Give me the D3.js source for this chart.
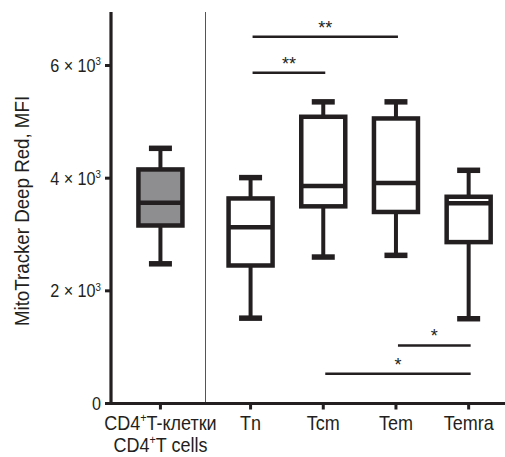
<!DOCTYPE html>
<html>
<head>
<meta charset="utf-8">
<script src="https://cdn.jsdelivr.net/npm/d3@7"></script>
<style>
  html, body { margin: 0; padding: 0; background: #fff; }
  svg { display: block; }
  text { font-family: "Liberation Sans", Arial, Helvetica, sans-serif; fill: #231f20; }
</style>
</head>
<body>
<svg id="chart" width="505" height="457"></svg>
<script>
// ---------------- data ----------------
const categories = ["CD4+T", "Tn", "Tcm", "Tem", "Temra"];
const labelLine1 = ["CD4⁺T-клетки", "Tn", "Tcm", "Tem", "Temra"];
const labelLine2 = ["CD4⁺T cells", "", "", "", ""];
const groups     = ["all", "subset", "subset", "subset", "subset"];

const whiskerMin = [2480, 1515, 2600, 2630, 1505];
const q1         = [3160, 2450, 3500, 3400, 2865];
const median     = [3565, 3130, 3860, 3915, 3555];
const q3         = [4155, 3640, 5090, 5060, 3670];
const whiskerMax = [4530, 4010, 5355, 5355, 4140];

const yTickValues = [0, 2000, 4000, 6000];
const yTickMantissa = ["0", "2", "4", "6"];
const yTickExponent = ["", "3", "3", "3"];

const sigFrom  = ["Tn", "Tn", "Tem", "Tcm"];
const sigTo    = ["Tem", "Tcm", "Temra", "Temra"];
const sigLevel = [6510, 5870, 1030, 530];
const sigLabel = ["**", "**", "*", "*"];

const yTitle = "MitoTracker Deep Red, MFI";

// ---------------- layout ----------------
const INK = "#231f20";
const GROUP_GAP = 0.24;
const svg = d3.select("#chart");

const posOf = categories.map((c, i) => i + (groups[i] === "subset" ? GROUP_GAP : 0));
const catPos = new Map(categories.map((c, i) => [c, posOf[i]]));

const x = d3.scaleLinear().domain([-0.68, 4.74]).range([111, 505]);
const y = d3.scaleLinear().domain([0, 6950]).range([403.5, 12]);

function label(g, px, py, parts, size, sx, anchor, rot) {
  const t = g.append("text")
    .attr("transform", `translate(${px},${py}) rotate(${rot || 0}) scale(${sx},1)`)
    .attr("text-anchor", anchor)
    .style("font-size", size + "px");
  parts.forEach(p => {
    const ts = t.append("tspan").text(p.text);
    if (p.sup) ts.style("font-size", (size * 0.6) + "px").attr("dy", -size * 0.38);
    else if (p.after) ts.attr("dy", size * 0.38);
  });
  return t;
}
function splitSup(str) {
  const out = [];
  const bits = str.split("⁺");
  bits.forEach((b, i) => {
    if (i > 0) out.push({ text: "+", sup: true });
    if (b) out.push({ text: b, after: i > 0 });
  });
  return out;
}

// divider between groups
const divX = x((posOf[0] + posOf[1]) / 2);
svg.append("line")
  .attr("x1", divX).attr("x2", divX)
  .attr("y1", y.range()[1]).attr("y2", y(0))
  .attr("stroke", "#555").attr("stroke-width", 1);

// axes
const axG = svg.append("g");
axG.append("line")
  .attr("x1", x.range()[0]).attr("x2", x.range()[0])
  .attr("y1", y.range()[1]).attr("y2", y(0) + 1.5)
  .attr("stroke", INK).attr("stroke-width", 3.2);
axG.append("line")
  .attr("x1", x.range()[0] - 1.5).attr("x2", x.range()[1])
  .attr("y1", y(0)).attr("y2", y(0))
  .attr("stroke", INK).attr("stroke-width", 3.2);

// y ticks
yTickValues.forEach((v, i) => {
  axG.append("line")
    .attr("x1", x.range()[0] - 6).attr("x2", x.range()[0])
    .attr("y1", y(v)).attr("y2", y(v))
    .attr("stroke", INK).attr("stroke-width", 3);
  const parts = yTickExponent[i]
    ? [{ text: yTickMantissa[i] + " × 10" }, { text: yTickExponent[i], sup: true }]
    : [{ text: yTickMantissa[i] }];
  label(axG, 101, y(v) + 6.5, parts, 18, 0.9, "end");
});

// x ticks + labels
categories.forEach((c, i) => {
  const cx = x(posOf[i]);
  axG.append("line")
    .attr("x1", cx).attr("x2", cx)
    .attr("y1", y(0)).attr("y2", y(0) + 6)
    .attr("stroke", INK).attr("stroke-width", 3);
  label(axG, cx, 430, splitSup(labelLine1[i]), 20, 0.9, "middle");
  if (labelLine2[i]) label(axG, cx, 452, splitSup(labelLine2[i]), 20, 0.9, "middle");
});

// y title
label(svg, 29, 211, [{ text: yTitle }], 19.5, 0.96, "middle", -90);

// boxes
const BOX_W = 44, CAP_W = 23;
const boxes = svg.append("g");
categories.forEach((c, i) => {
  const cx = x(posOf[i]);
  const g = boxes.append("g");
  g.append("line").attr("x1", cx).attr("x2", cx)
    .attr("y1", y(q3[i])).attr("y2", y(whiskerMax[i]))
    .attr("stroke", INK).attr("stroke-width", 4);
  g.append("line").attr("x1", cx).attr("x2", cx)
    .attr("y1", y(q1[i])).attr("y2", y(whiskerMin[i]))
    .attr("stroke", INK).attr("stroke-width", 4);
  [whiskerMax[i], whiskerMin[i]].forEach(v => {
    g.append("line").attr("x1", cx - CAP_W / 2).attr("x2", cx + CAP_W / 2)
      .attr("y1", y(v)).attr("y2", y(v))
      .attr("stroke", INK).attr("stroke-width", 5.5);
  });
  g.append("rect")
    .attr("x", cx - BOX_W / 2).attr("width", BOX_W)
    .attr("y", y(q3[i])).attr("height", y(q1[i]) - y(q3[i]))
    .attr("fill", groups[i] === "all" ? "#8e8e90" : "#fff")
    .attr("stroke", INK).attr("stroke-width", 4.5);
  g.append("line").attr("x1", cx - BOX_W / 2).attr("x2", cx + BOX_W / 2)
    .attr("y1", y(median[i])).attr("y2", y(median[i]))
    .attr("stroke", INK).attr("stroke-width", 4.5);
});

// significance bars
const sig = svg.append("g");
sigFrom.forEach((f, i) => {
  const x1 = x(catPos.get(f)) + 2, x2 = x(catPos.get(sigTo[i])) + 2;
  const ly = y(sigLevel[i]);
  sig.append("line").attr("x1", x1).attr("x2", x2)
    .attr("y1", ly).attr("y2", ly)
    .attr("stroke", INK).attr("stroke-width", 2.5);
  sig.append("text")
    .attr("x", (x1 + x2) / 2).attr("y", ly - 3)
    .attr("text-anchor", "middle")
    .style("font-size", "18px")
    .text(sigLabel[i]);
});
</script>
</body>
</html>
